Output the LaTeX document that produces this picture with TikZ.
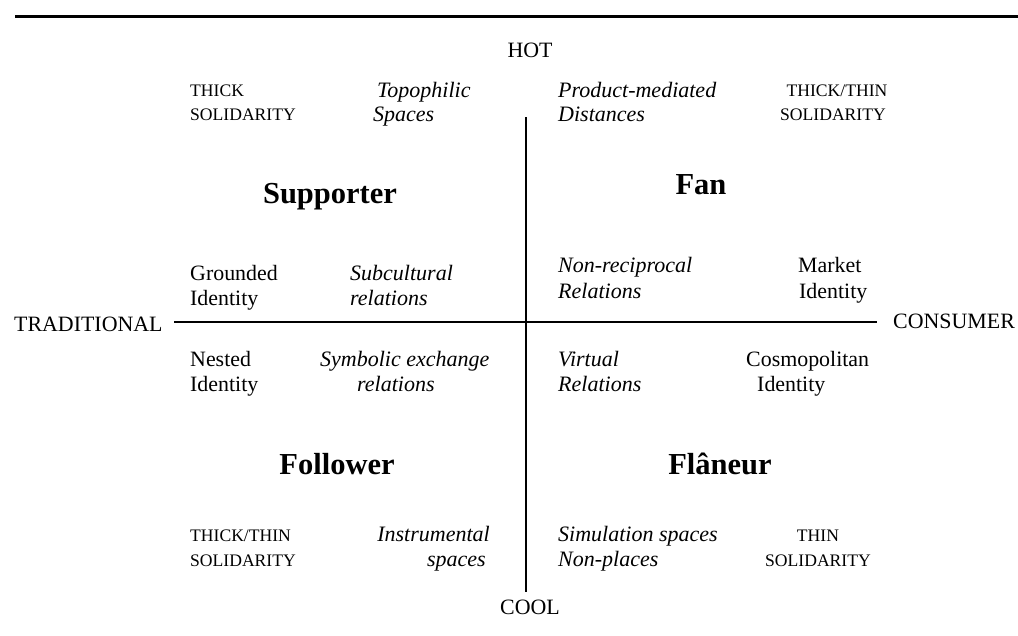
\documentclass[tikz,border=0pt]{standalone}
\usepackage{fontspec}
\setmainfont{Liberation Serif}
\tikzset{
  reg/.style={inner sep=0pt, font=\fontsize{21.9}{24}\selectfont},
  ita/.style={inner sep=0pt, font=\fontsize{22}{24}\selectfont\itshape},
  caps/.style={inner sep=0pt, font=\fontsize{17.6}{20}\selectfont},
  big/.style={inner sep=0pt, font=\fontsize{30.5}{34}\selectfont\bfseries},
  axis/.style={line width=2pt},
}
\begin{document}
\begin{tikzpicture}[x=1pt,y=-1pt]
\useasboundingbox (0,0) rectangle (1018,635);
% top rule
\coordinate (ruleL) at (15,16);
\coordinate (ruleR) at (1018,16);
\draw[line width=3pt] (ruleL) -- (ruleR);
% axes
\coordinate (vtop) at (526,117);
\coordinate (vbot) at (526,592);
\coordinate (hl) at (174,322);
\coordinate (hr) at (877,322);
\draw[axis] (vtop) -- (vbot);
\draw[axis] (hl) -- (hr);
% axis labels
\node[reg, anchor=base] (hot) at (530,57) {HOT};
\node[reg, anchor=base] (cool) at (530,614) {COOL};
\node[reg, anchor=base west] (trad) at (14,331) {TRADITIONAL};
\node[reg, anchor=base west] (cons) at (893,328) {CONSUMER};
% top row
\node[caps, anchor=base west] (t1a) at (190,96) {THICK};
\node[caps, anchor=base west] (t1b) at (190,120) {SOLIDARITY};
\node[ita, anchor=base west] (t2a) at (377,97) {Topophilic};
\node[ita, anchor=base west] (t2b) at (373,121) {Spaces};
\node[ita, anchor=base west] (t3a) at (558,97) {Product-mediated};
\node[ita, anchor=base west] (t3b) at (558,121) {Distances};
\node[caps, anchor=base] (t4a) at (837,96) {THICK/THIN};
\node[caps, anchor=base] (t4b) at (833,120) {SOLIDARITY};
% quadrant names
\node[big, anchor=base] (supporter) at (330,203) {Supporter};
\node[big, anchor=base] (fan) at (701,194) {Fan};
\node[big, anchor=base] (follower) at (337,474) {Follower};
\node[big, anchor=base] (flaneur) at (720,474) {Flâneur};
% upper middle
\node[reg, anchor=base west] (m1a) at (190,280) {Grounded};
\node[reg, anchor=base west] (m1b) at (190,305) {Identity};
\node[ita, anchor=base west] (m2a) at (350,280) {Subcultural};
\node[ita, anchor=base west] (m2b) at (350,305) {relations};
\node[ita, anchor=base west] (m3a) at (558,272) {Non-reciprocal};
\node[ita, anchor=base west] (m3b) at (558,298) {Relations};
\node[reg, anchor=base west] (m4a) at (798,272) {Market};
\node[reg, anchor=base west] (m4b) at (799,298) {Identity};
% lower middle
\node[reg, anchor=base west] (l1a) at (190,366) {Nested};
\node[reg, anchor=base west] (l1b) at (190,391) {Identity};
\node[ita, anchor=base west] (l2a) at (320,366) {Symbolic exchange};
\node[ita, anchor=base west] (l2b) at (357,391) {relations};
\node[ita, anchor=base west] (l3a) at (558,366) {Virtual};
\node[ita, anchor=base west] (l3b) at (558,391) {Relations};
\node[reg, anchor=base west] (l4a) at (746,366) {Cosmopolitan};
\node[reg, anchor=base west] (l4b) at (757,391) {Identity};
% bottom row
\node[caps, anchor=base west] (b1a) at (190,541) {THICK/THIN};
\node[caps, anchor=base west] (b1b) at (190,566) {SOLIDARITY};
\node[ita, anchor=base east] (b2a) at (490,541) {Instrumental};
\node[ita, anchor=base east] (b2b) at (486,566) {spaces};
\node[ita, anchor=base west] (b3a) at (558,541) {Simulation spaces};
\node[ita, anchor=base west] (b3b) at (558,566) {Non-places};
\node[caps, anchor=base] (b4a) at (818,541) {THIN};
\node[caps, anchor=base] (b4b) at (818,566) {SOLIDARITY};
\end{tikzpicture}
\end{document}
